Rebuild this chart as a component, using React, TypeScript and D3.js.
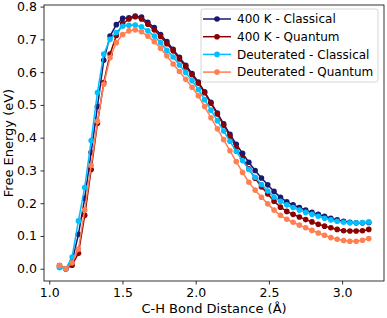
import * as d3 from 'd3';
import { useEffect, useRef } from 'react';

// C-H bond distance (Å)
const distance = [
    1.070, 1.113, 1.156, 1.199, 1.242, 1.286, 1.329, 1.372, 1.415, 1.458,
    1.501, 1.544, 1.587, 1.630, 1.673, 1.717, 1.760, 1.803, 1.846, 1.889,
    1.932, 1.975, 2.018, 2.061, 2.104, 2.148, 2.191, 2.234, 2.277, 2.320,
    2.363, 2.406, 2.449, 2.492, 2.535, 2.579, 2.622, 2.665, 2.708, 2.751,
    2.794, 2.837, 2.880, 2.923, 2.966, 3.010, 3.053, 3.096, 3.139, 3.182,
];

const classical400K = [
    0.005, 0.0, 0.022, 0.105, 0.215, 0.355, 0.495, 0.636, 0.71, 0.745,
    0.764, 0.766, 0.771, 0.768, 0.752, 0.736, 0.715, 0.693, 0.67, 0.645,
    0.621, 0.596, 0.57, 0.54, 0.508, 0.475, 0.442, 0.41, 0.38, 0.352,
    0.325, 0.3, 0.277, 0.256, 0.236, 0.218, 0.204, 0.195, 0.187, 0.179,
    0.172, 0.166, 0.16, 0.154, 0.149, 0.145, 0.142, 0.14, 0.14, 0.141,
];

const quantum400K = [
    0.01, 0.0, 0.011, 0.047, 0.163, 0.303, 0.444, 0.568, 0.655, 0.712,
    0.748, 0.762, 0.769, 0.762, 0.746, 0.729, 0.709, 0.687, 0.665, 0.64,
    0.616, 0.592, 0.566, 0.537, 0.505, 0.472, 0.438, 0.404, 0.37, 0.337,
    0.305, 0.276, 0.25, 0.228, 0.206, 0.188, 0.175, 0.166, 0.158, 0.15,
    0.143, 0.136, 0.13, 0.125, 0.12, 0.116, 0.115, 0.115, 0.116, 0.12,
];

const deutClassical = [
    0.003, 0.0, 0.036, 0.146, 0.248, 0.391, 0.538, 0.655, 0.7, 0.721,
    0.74, 0.743, 0.744, 0.738, 0.726, 0.71, 0.69, 0.667, 0.646, 0.622,
    0.599, 0.574, 0.547, 0.516, 0.484, 0.452, 0.42, 0.389, 0.358, 0.33,
    0.303, 0.279, 0.257, 0.237, 0.219, 0.206, 0.195, 0.187, 0.179, 0.172,
    0.166, 0.16, 0.154, 0.149, 0.145, 0.142, 0.14, 0.14, 0.141, 0.143,
];

const deutQuantum = [
    0.01, 0.0, 0.018, 0.06, 0.179, 0.315, 0.45, 0.563, 0.644, 0.69,
    0.715, 0.726, 0.729, 0.723, 0.71, 0.693, 0.673, 0.65, 0.625, 0.602,
    0.578, 0.554, 0.528, 0.495, 0.461, 0.427, 0.394, 0.36, 0.327, 0.294,
    0.264, 0.24, 0.218, 0.198, 0.179, 0.163, 0.151, 0.142, 0.133, 0.125,
    0.117, 0.109, 0.102, 0.095, 0.09, 0.086, 0.084, 0.084, 0.087, 0.092,
];

const seriesNames = ['400 K - Classical', '400 K - Quantum', 'Deuterated - Classical', 'Deuterated - Quantum'];
const seriesValues = [classical400K, quantum400K, deutClassical, deutQuantum];
const seriesColors = ['#191970', '#8b0000', '#00bfff', '#ff7f50'];

const xTicks = [1.0, 1.5, 2.0, 2.5, 3.0];
const yTicks = [0.0, 0.1, 0.2, 0.3, 0.4, 0.5, 0.6, 0.7, 0.8];

export default function App() {
    const chartRef = useRef<SVGSVGElement | null>(null);

    useEffect(() => {
        if (!chartRef.current) return;
        d3.select(chartRef.current).selectAll('*').remove();

        const svg = d3.select(chartRef.current);
        const width = 387;
        const height = 318;
        const margin = { top: 5, right: 3, bottom: 37, left: 44 };
        const font = 'DejaVu Sans, sans-serif';

        const x = d3.scaleLinear().domain([0.964, 3.286]).range([margin.left, width - margin.right]);
        const y = d3.scaleLinear().domain([-0.0374, 0.8049]).range([height - margin.bottom, margin.top]);

        const line = d3
            .line<number>()
            .x((_, i) => x(distance[i]))
            .y((d) => y(d));

        seriesValues.forEach((vals, k) => {
            const g = svg.append('g');
            g.append('path')
                .attr('d', line(vals))
                .attr('fill', 'none')
                .attr('stroke', seriesColors[k])
                .attr('stroke-width', 1.5);
            g.selectAll('circle')
                .data(vals)
                .join('circle')
                .attr('cx', (_, i) => x(distance[i]))
                .attr('cy', (d) => y(d))
                .attr('r', 2.8)
                .attr('fill', seriesColors[k]);
        });

        // axes
        const xAxis = d3
            .axisBottom(x)
            .tickValues(xTicks)
            .tickFormat(d3.format('.1f'))
            .tickSizeInner(3.5)
            .tickSizeOuter(0)
            .tickPadding(3.5);
        const gx = svg.append('g').attr('transform', `translate(0,${height - margin.bottom})`).call(xAxis);
        gx.select('.domain').remove();
        gx.selectAll('text').style('font-size', '12.5px').style('font-family', font).attr('fill', '#000');
        gx.selectAll('line').attr('stroke', '#000').attr('stroke-width', 0.8);

        const yAxis = d3
            .axisLeft(y)
            .tickValues(yTicks)
            .tickFormat(d3.format('.1f'))
            .tickSizeInner(3.5)
            .tickSizeOuter(0)
            .tickPadding(3.5);
        const gy = svg.append('g').attr('transform', `translate(${margin.left},0)`).call(yAxis);
        gy.select('.domain').remove();
        gy.selectAll('text').style('font-size', '12.5px').style('font-family', font).attr('fill', '#000');
        gy.selectAll('line').attr('stroke', '#000').attr('stroke-width', 0.8);

        // frame
        svg.append('rect')
            .attr('x', margin.left)
            .attr('y', margin.top)
            .attr('width', width - margin.left - margin.right)
            .attr('height', height - margin.top - margin.bottom)
            .attr('fill', 'none')
            .attr('stroke', '#000')
            .attr('stroke-width', 0.8);

        svg.append('text')
            .attr('x', (margin.left + width - margin.right) / 2)
            .attr('y', 313)
            .attr('text-anchor', 'middle')
            .style('font-family', font)
            .style('font-size', '13px')
            .text('C-H Bond Distance (Å)');

        svg.append('text')
            .attr('transform', `translate(13,${(margin.top + height - margin.bottom) / 2}) rotate(-90)`)
            .attr('text-anchor', 'middle')
            .style('font-family', font)
            .style('font-size', '13px')
            .text('Free Energy (eV)');

        // legend
        const lg = svg.append('g').attr('transform', 'translate(201,9)');
        lg.append('rect')
            .attr('width', 177)
            .attr('height', 73)
            .attr('rx', 2.5)
            .attr('fill', '#fff')
            .attr('fill-opacity', 0.8)
            .attr('stroke', '#ccc')
            .attr('stroke-width', 0.8);
        seriesNames.forEach((name, k) => {
            const ry = 10 + k * 17.7;
            lg.append('line')
                .attr('x1', 2)
                .attr('x2', 30)
                .attr('y1', ry)
                .attr('y2', ry)
                .attr('stroke', seriesColors[k])
                .attr('stroke-width', 1.5);
            lg.append('circle').attr('cx', 16).attr('cy', ry).attr('r', 2.8).attr('fill', seriesColors[k]);
            lg.append('text')
                .attr('x', 36)
                .attr('y', ry + 4.3)
                .style('font-family', font)
                .style('font-size', '12px')
                .text(name);
        });
    }, []);

    return (
        <svg
            ref={chartRef}
            width={387}
            height={318}
            style={{ position: 'absolute', left: 0, top: 0, background: '#fff' }}
        />
    );
}
